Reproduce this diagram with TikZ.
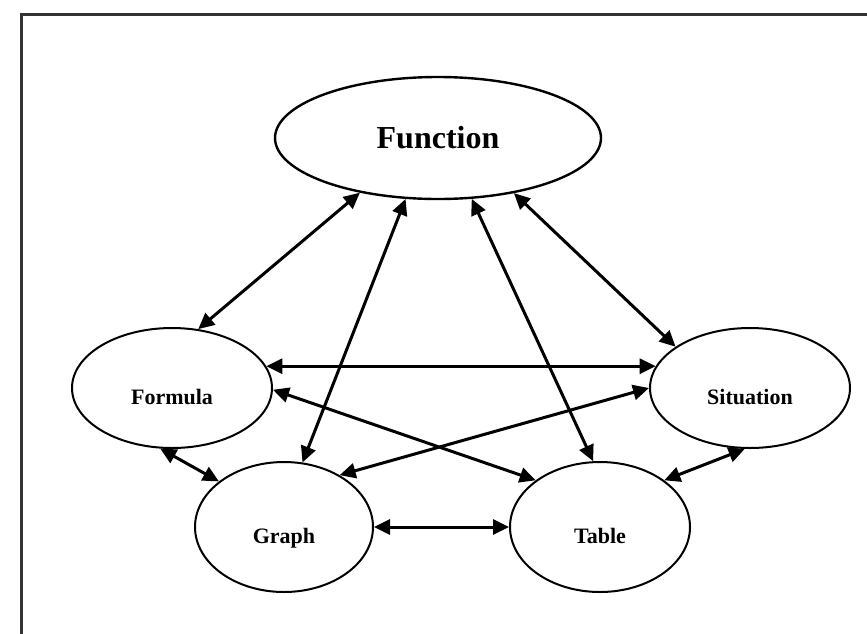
\documentclass[tikz,border=0pt]{standalone}
\usepackage{fontspec}
\setmainfont{Liberation Serif}
\usetikzlibrary{arrows.meta, shapes.geometric}

\begin{document}
\begin{tikzpicture}[
    x=1pt, y=-1pt,
    big/.style={ellipse, draw, line width=2.4pt, minimum width=326pt, minimum height=122pt,
                inner sep=0pt, font=\fontsize{32}{36}\selectfont\bfseries},
    sub/.style={ellipse, draw, line width=2pt, inner sep=0pt, text height=32pt, text depth=0pt,
                font=\fontsize{22}{26}\selectfont\bfseries},
    arr/.style={<->, >={Triangle[length=16pt, width=15pt]}, line width=3pt},
  ]
    \useasboundingbox (0,0) rectangle (867,633);
    \draw[line width=3pt, black!80] (21,14) rectangle (900,680);
    \node[big] (fun) at (438,138) {Function};
    \node[sub, minimum width=200pt, minimum height=120pt] (form) at (172,388) {Formula};
    \node[sub, minimum width=200pt, minimum height=120pt] (sit)  at (750,388) {Situation};
    \node[sub, minimum width=178pt, minimum height=130pt] (gra)  at (284,527) {Graph};
    \node[sub, minimum width=180pt, minimum height=130pt] (tab)  at (600,527) {Table};
    % every link goes both ways
    \foreach \a/\b in {form.66/fun.215, gra.74/fun.242, tab.96/fun.299, sit.151/fun.324,
                       form.13/sit.167, form.359/tab.144, sit.180/gra.43, form.259/gra.145,
                       gra.0/tab.180, tab.36/sit.265}
      \draw[arr] (\a) -- (\b);
  \end{tikzpicture}
\end{document}
